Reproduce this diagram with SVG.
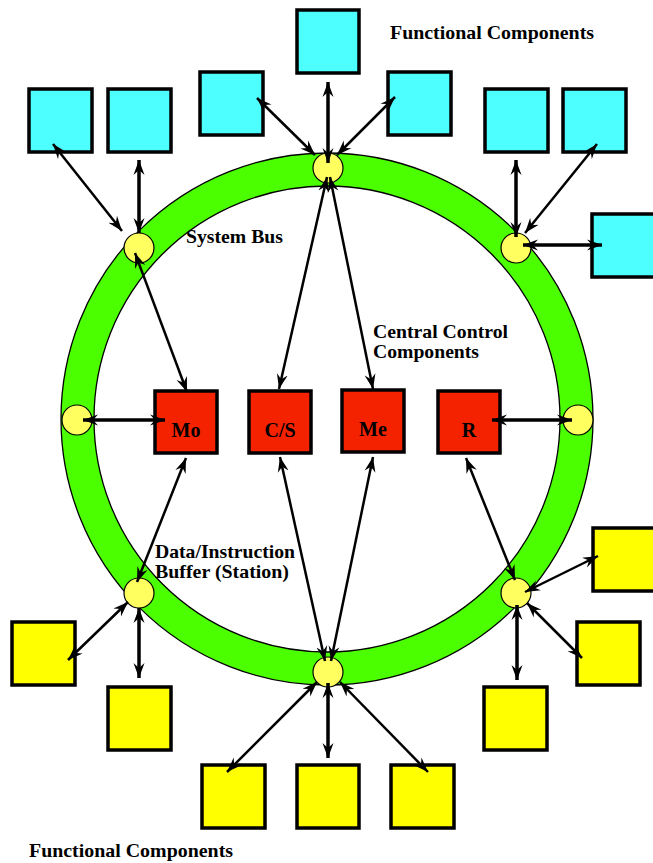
<svg xmlns="http://www.w3.org/2000/svg" width="653" height="863" viewBox="0 0 653 863">
<style>
.cy{fill:#4dffff;stroke:#000;stroke-width:3.5}
.ye{fill:#ffff00;stroke:#000;stroke-width:3.5}
.rd{fill:#f52200;stroke:#000;stroke-width:3.5}
.st{fill:#ffff60;stroke:#000;stroke-width:1.2}
.lb{font-family:"Liberation Serif","Times New Roman",serif;font-weight:bold;font-size:19px;fill:#000}
.bx{font-family:"Liberation Serif","Times New Roman",serif;font-weight:bold;font-size:20px;fill:#000;text-anchor:middle}
.c{stroke:#000;fill:none;marker-start:url(#ah);marker-end:url(#ah)}
.t{stroke-width:3.5}
.n{stroke-width:2.5}
</style>
<defs>
<marker id="ah" viewBox="-15 -6 16 12" refX="0" refY="0" markerWidth="16" markerHeight="12" markerUnits="userSpaceOnUse" orient="auto-start-reverse">
<path d="M0,0 L-15,-5.5 L-10,0 L-15,5.5 Z" fill="#000"/>
</marker>
</defs>
<rect width="653" height="863" fill="#fff"/>
<g id="ring">
<circle cx="327" cy="419" r="249.5" fill="none" stroke="#4cff00" stroke-width="33"/>
<circle cx="327" cy="419" r="266" fill="none" stroke="#000" stroke-width="1.3"/>
<circle cx="327" cy="419" r="233" fill="none" stroke="#000" stroke-width="1.3"/>
</g>
<g id="stations">
<circle id="st-top" class="st" cx="328" cy="168" r="15"/>
<circle id="st-ul" class="st" cx="139" cy="248" r="15"/>
<circle id="st-ur" class="st" cx="516" cy="248" r="15"/>
<circle id="st-l" class="st" cx="77" cy="420" r="15"/>
<circle id="st-r" class="st" cx="578" cy="420" r="15"/>
<circle id="st-ll" class="st" cx="139" cy="593" r="15"/>
<circle id="st-lr" class="st" cx="516" cy="593" r="15"/>
<circle id="st-b" class="st" cx="328" cy="672" r="15"/>
</g>
<g id="fc-top">
<rect id="c1" class="cy" x="29" y="89" width="63" height="63"/>
<rect id="c2" class="cy" x="108" y="89" width="63" height="63"/>
<rect id="c3" class="cy" x="200" y="72" width="63" height="63"/>
<rect id="c4" class="cy" x="297" y="10" width="62" height="63"/>
<rect id="c5" class="cy" x="388" y="72" width="63" height="63"/>
<rect id="c6" class="cy" x="485" y="89" width="63" height="63"/>
<rect id="c7" class="cy" x="563" y="89" width="63" height="63"/>
<rect id="c8" class="cy" x="592" y="214" width="66" height="63"/>
</g>
<g id="fc-bottom">
<rect id="y1" class="ye" x="12" y="622" width="63" height="63"/>
<rect id="y2" class="ye" x="108" y="687" width="63" height="63"/>
<rect id="y3" class="ye" x="202" y="765" width="63" height="63"/>
<rect id="y4" class="ye" x="297" y="765" width="62" height="63"/>
<rect id="y5" class="ye" x="391" y="765" width="63" height="63"/>
<rect id="y6" class="ye" x="484" y="687" width="63" height="63"/>
<rect id="y7" class="ye" x="577" y="622" width="63" height="63"/>
<rect id="y8" class="ye" x="593" y="528" width="66" height="63"/>
</g>
<g id="mo"><rect class="rd" x="155" y="391" width="62" height="62"/><text class="bx" x="186" y="437">Mo</text></g>
<g id="cs"><rect class="rd" x="249" y="391" width="62" height="62"/><text class="bx" x="280" y="437">C/S</text></g>
<g id="me"><rect class="rd" x="342" y="390" width="62" height="62"/><text class="bx" x="373" y="436">Me</text></g>
<g id="r"><rect class="rd" x="438" y="391" width="62" height="62"/><text class="bx" x="469" y="437">R</text></g>
<g id="connectors">
<line class="c t" x1="328" y1="163" x2="328" y2="82"/>
<line class="c n" x1="337" y1="155" x2="395" y2="97"/>
<line class="c n" x1="315" y1="155" x2="257" y2="98"/>
<line class="c n" x1="327" y1="177" x2="279" y2="389"/>
<line class="c n" x1="330" y1="177" x2="373" y2="389"/>
<line class="c n" x1="122" y1="231" x2="53" y2="144"/>
<line class="c t" x1="139" y1="233" x2="139" y2="160"/>
<line class="c n" x1="135" y1="253" x2="187" y2="392"/>
<line class="c t" x1="516" y1="237" x2="516" y2="160"/>
<line class="c n" x1="525" y1="233" x2="597" y2="144"/>
<line class="c t" x1="523" y1="245" x2="602" y2="245"/>
<line class="c t" x1="83" y1="420" x2="165" y2="420"/>
<line class="c t" x1="572" y1="420" x2="492" y2="420"/>
<line class="c n" x1="137" y1="582" x2="186" y2="458"/>
<line class="c n" x1="128" y1="602" x2="68" y2="660"/>
<line class="c t" x1="139" y1="608" x2="139" y2="678"/>
<line class="c n" x1="515" y1="580" x2="466" y2="458"/>
<line class="c n" x1="525" y1="592" x2="598" y2="556"/>
<line class="c n" x1="527" y1="603" x2="582" y2="658"/>
<line class="c t" x1="517" y1="605" x2="517" y2="680"/>
<line class="c n" x1="280" y1="457" x2="325" y2="661"/>
<line class="c n" x1="373" y1="457" x2="331" y2="661"/>
<line class="c n" x1="317" y1="682" x2="227" y2="772"/>
<line class="c t" x1="328" y1="683" x2="328" y2="758"/>
<line class="c n" x1="340" y1="682" x2="428" y2="772"/>
</g>
<g id="labels">
<text class="lb" x="390" y="39" textLength="204" lengthAdjust="spacingAndGlyphs">Functional Components</text>
<text class="lb" x="186" y="243" textLength="97" lengthAdjust="spacingAndGlyphs">System Bus</text>
<text class="lb" x="373" y="338" textLength="135" lengthAdjust="spacingAndGlyphs">Central Control</text>
<text class="lb" x="373" y="358" textLength="106" lengthAdjust="spacingAndGlyphs">Components</text>
<text class="lb" x="155" y="558" textLength="140" lengthAdjust="spacingAndGlyphs">Data/Instruction</text>
<text class="lb" x="155" y="578" textLength="134" lengthAdjust="spacingAndGlyphs">Buffer (Station)</text>
<text class="lb" x="29" y="857" textLength="204" lengthAdjust="spacingAndGlyphs">Functional Components</text>
</g>
</svg>
